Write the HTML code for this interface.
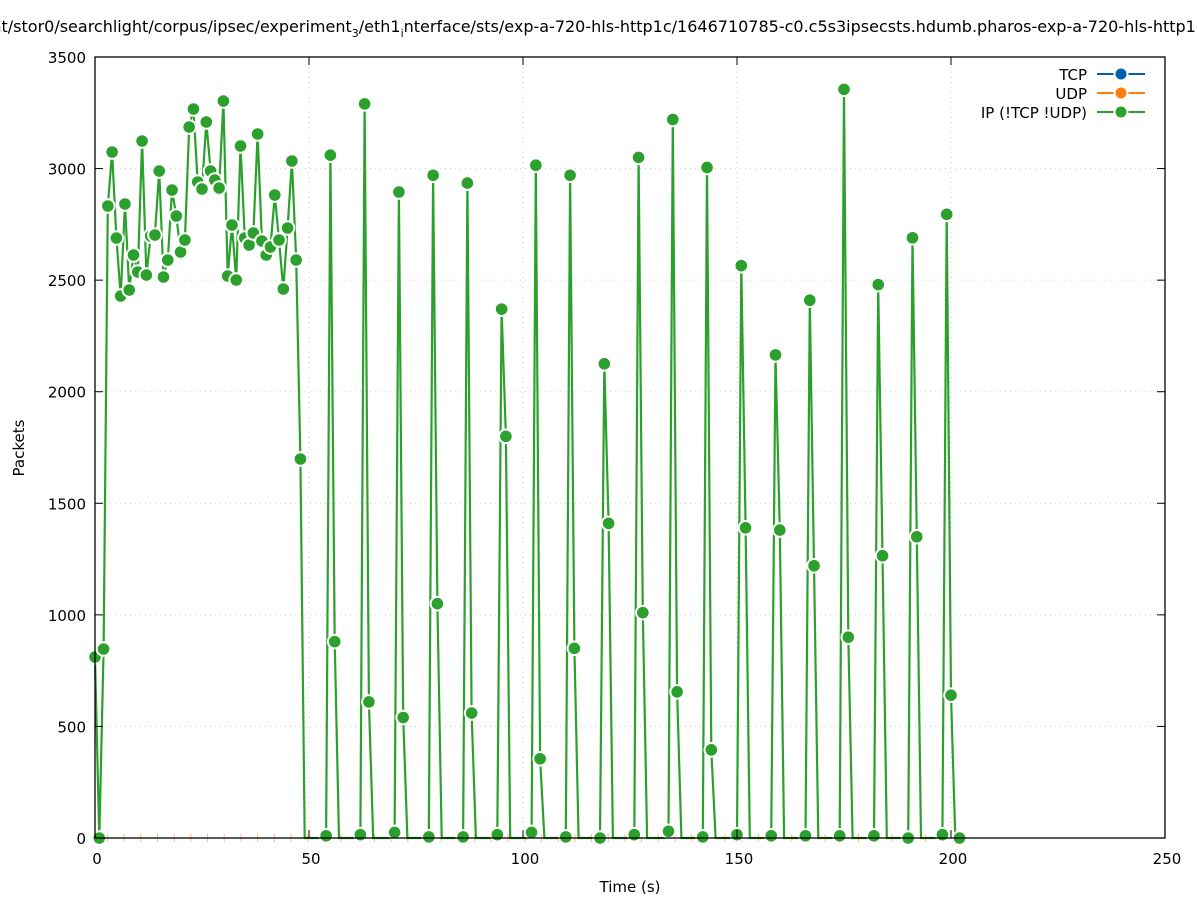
<!DOCTYPE html>
<html><head><meta charset="utf-8"><style>
html,body{margin:0;padding:0;background:#fff;}
svg{display:block;font-family:"DejaVu Sans","Liberation Sans",sans-serif;}
</style></head><body>
<svg id="s" width="1197" height="900" xmlns="http://www.w3.org/2000/svg">
<rect width="1197" height="900" fill="#fff"/>
<text x="598" y="32" font-size="16" text-anchor="middle">nt/stor0/searchlight/corpus/ipsec/experiment<tspan font-size="11" dy="5">3</tspan><tspan dy="-5">/eth1</tspan><tspan font-size="11" dy="5">i</tspan><tspan dy="-5">nterface/sts/exp-a-720-hls-http1c/1646710785-c0.c5s3ipsecsts.hdumb.pharos-exp-a-720-hls-http1c</tspan></text>
<g id="grid"></g>
<g id="data"></g>
<rect x="95" y="57" width="1070" height="781" fill="none" stroke="#000" stroke-width="1.3"/>
<g id="ticks"></g>
<text x="630" y="892" font-size="15" text-anchor="middle">Time (s)</text>
<text transform="translate(24,448) rotate(-90)" font-size="15" text-anchor="middle">Packets</text>
<g font-size="15" text-anchor="end">
<text x="1087" y="80">TCP</text>
<text x="1087" y="99">UDP</text>
<text x="1087" y="118">IP (!TCP  !UDP)</text>
</g>
<line x1="1097" y1="74" x2="1145" y2="74" stroke="#0060ad" stroke-width="2"/>
<circle cx="1121" cy="74" r="6.5" fill="#0060ad" stroke="#fff" stroke-width="2"/>
<line x1="1097" y1="93" x2="1145" y2="93" stroke="#ff7f0e" stroke-width="2"/>
<circle cx="1121" cy="93" r="6.5" fill="#ff7f0e" stroke="#fff" stroke-width="2"/>
<line x1="1097" y1="112" x2="1145" y2="112" stroke="#2ca02c" stroke-width="2"/>
<circle cx="1121" cy="112" r="6.5" fill="#2ca02c" stroke="#fff" stroke-width="2"/>
</svg>
<script>
var NS="http://www.w3.org/2000/svg";
function el(p,t,a){var e=document.createElementNS(NS,t);for(var k in a)e.setAttribute(k,a[k]);p.appendChild(e);return e;}
var X=function(v){return 95+v*4.28}, Y=function(v){return 838-v*0.22314};
var g=document.getElementById('grid'),tk=document.getElementById('ticks');
for(var v=0;v<=3500;v+=500){var y=Y(v);
 if(v>0&&v<3500)el(g,'line',{x1:95,x2:1165,y1:y,y2:y,stroke:'#ccc','stroke-dasharray':'1,4'});
 el(tk,'line',{x1:95,x2:103,y1:y,y2:y,stroke:'#000'});el(tk,'line',{x1:1157,x2:1165,y1:y,y2:y,stroke:'#000'});
 var t=el(tk,'text',{x:86,y:y+6,'font-size':15,'text-anchor':'end'});t.textContent=v;}
for(var v=0;v<=250;v+=50){var x=X(v);
 if(v>0&&v<250)el(g,'line',{x1:x,x2:x,y1:57,y2:838,stroke:'#ccc','stroke-dasharray':'1,4'});
 el(tk,'line',{x1:x,x2:x,y1:830,y2:838,stroke:'#000'});el(tk,'line',{x1:x,x2:x,y1:57,y2:65,stroke:'#000'});
 var t=el(tk,'text',{x:x+2,y:864,'font-size':15,'text-anchor':'middle'});t.textContent=v;}
var py=[657,838,649,206,152,238,296,204,290,255,272,141,275,236,235,171,277,260,190,216,252,240,127,109,182,189,122,171,180,188,101,276,225,280,146,238,245,233,134,241,255,247,195,240,289,228,161,260,459];
var pts=[];
for(var i=0;i<py.length;i++)pts.push([i,(838-py[i])/0.22314,1]);
pts.push([49,0,0]);
var b=[[10,3060,880],[15,3290,610],[25,2895,540],[5,2970,1050],[5,2935,560],[15,2370,1800],[25,3015,355],[5,2970,850],[0,2125,1410],[15,3050,1010],[30,3220,655],[5,3005,395],[15,2565,1390],[10,2165,1380],[10,2410,1220],[10,3355,900],[10,2480,1265],[0,2690,1350],[15,2795,640]];
for(var k=0;k<b.length;k++){var x0=54+8*k;
 pts.push([x0-1,0,0]);pts.push([x0,b[k][0],1]);pts.push([x0+1,b[k][1],1]);pts.push([x0+2,b[k][2],1]);pts.push([x0+3,0,0]);}
pts.push([202,0,1]);
var d=document.getElementById('data');
for(var x=-1;x<205;x+=3.9){var px=X(x);if(px<95)continue;el(d,'line',{x1:px,x2:px,y1:834,y2:842,stroke:'#ffbb88','stroke-width':1});}
var s='';pts.forEach(function(p,i){s+=(i?'L':'M')+X(p[0]).toFixed(1)+','+Y(p[1]).toFixed(1);});
el(d,'path',{d:s,fill:'none',stroke:'#2ca02c','stroke-width':2.2,'stroke-linejoin':'miter'});
pts.forEach(function(p){if(p[2])el(d,'circle',{cx:X(p[0]),cy:Y(p[1]),r:6.8,fill:'#2ca02c',stroke:'#fff','stroke-width':2});});
</script>
</body></html>
